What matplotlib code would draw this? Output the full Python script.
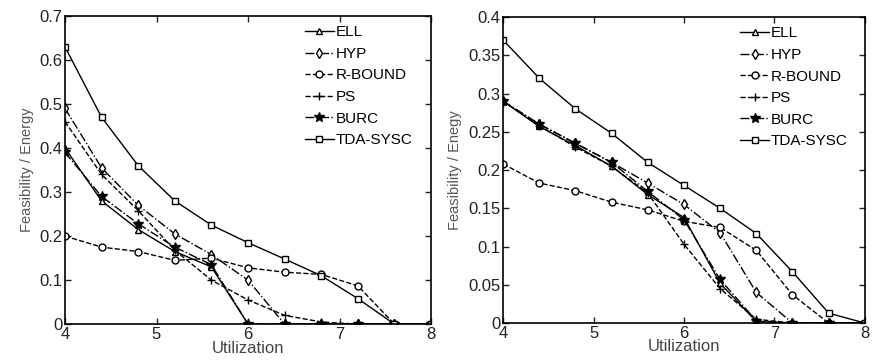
import numpy as np
import matplotlib
matplotlib.use("Agg")
import matplotlib.pyplot as plt

plt.rcParams["font.family"] = ["Liberation Sans", "DejaVu Sans"]

util = [4.0, 4.4, 4.8, 5.2, 5.6, 6.0, 6.4, 6.8, 7.2, 7.6, 8.0]
labels = ["ELL", "HYP", "R-BOUND", "PS", "BURC", "TDA-SYSC"]

# left panel
left_ell = [0.40, 0.280, 0.215, 0.165, 0.130, 0.0, 0.0, 0.0, 0.0, 0.0, 0.0]
left_hyp = [0.49, 0.355, 0.270, 0.205, 0.158, 0.100, 0.0, 0.0, 0.0, 0.0, 0.0]
left_rbound = [0.20, 0.175, 0.165, 0.145, 0.150, 0.128, 0.118, 0.113, 0.087, 0.0, 0.0]
left_ps = [0.46, 0.340, 0.258, 0.168, 0.100, 0.055, 0.020, 0.005, 0.0, 0.0, 0.0]
left_burc = [0.39, 0.290, 0.228, 0.175, 0.135, 0.0, 0.0, 0.0, 0.0, 0.0, 0.0]
left_tda = [0.63, 0.470, 0.360, 0.280, 0.225, 0.185, 0.148, 0.110, 0.058, 0.0, 0.0]

# right panel
right_ell = [0.29, 0.257, 0.232, 0.205, 0.168, 0.138, 0.052, 0.002, 0.0, 0.0, 0.0]
right_hyp = [0.29, 0.260, 0.235, 0.210, 0.183, 0.155, 0.118, 0.040, 0.0, 0.0, 0.0]
right_rbound = [0.208, 0.183, 0.173, 0.158, 0.148, 0.133, 0.125, 0.095, 0.037, 0.0, 0.0]
right_ps = [0.29, 0.258, 0.230, 0.205, 0.170, 0.103, 0.045, 0.005, 0.0, 0.0, 0.0]
right_burc = [0.29, 0.260, 0.235, 0.210, 0.172, 0.135, 0.057, 0.003, 0.0, 0.0, 0.0]
right_tda = [0.37, 0.320, 0.280, 0.248, 0.210, 0.180, 0.150, 0.117, 0.067, 0.013, 0.0]

styles = [
    dict(ls="-", marker="^", mfc="white", ms=5),
    dict(ls="-.", marker="d", mfc="white", ms=5),
    dict(ls="--", marker="o", mfc="white", ms=5),
    dict(ls="--", marker="+", mfc="black", ms=6),
    dict(ls="-.", marker="*", mfc="black", ms=7),
    dict(ls="-", marker="s", mfc="white", ms=4.5),
]


def draw(ax, series, ylim, ystep, ylabel):
    for vals, lab, st in zip(series, labels, styles):
        ax.plot(util, vals, color="black", lw=1.0, mec="black", mew=1.0,
                label=lab, **st)
    ax.set_xlim(4, 8)
    ax.set_ylim(0, ylim)
    ax.set_xticks([4, 5, 6, 7, 8])
    ax.set_yticks(np.round(np.arange(0, ylim + 1e-9, ystep), 3))
    ax.yaxis.set_major_formatter(matplotlib.ticker.FormatStrFormatter("%g"))
    ax.tick_params(direction="in", top=True, right=True, labelsize=12,
                   length=4, width=1, pad=2, colors="#222222")
    for s in ax.spines.values():
        s.set_linewidth(1.2)
    ax.set_xlabel("Utilization", fontsize=12, color="#444444", labelpad=-1)
    ax.set_ylabel(ylabel, fontsize=10.5, color="#555555", labelpad=4)
    ax.legend(loc="upper left", bbox_to_anchor=(0.655, 0.97), frameon=False,
              fontsize=11, handlelength=1.9, handletextpad=0.1,
              labelspacing=0.5, borderpad=0, borderaxespad=0)


fig = plt.figure(figsize=(8.78, 3.63), dpi=100)
ax1 = fig.add_axes([0.074, 0.107, 0.417, 0.849])
ax2 = fig.add_axes([0.573, 0.110, 0.412, 0.843])

draw(ax1, [left_ell, left_hyp, left_rbound, left_ps, left_burc, left_tda],
     0.7, 0.1, "Feasibility / Energy")
draw(ax2, [right_ell, right_hyp, right_rbound, right_ps, right_burc, right_tda],
     0.4, 0.05, "Feasibility / Enegy")

fig.savefig("out.png", dpi=100)
